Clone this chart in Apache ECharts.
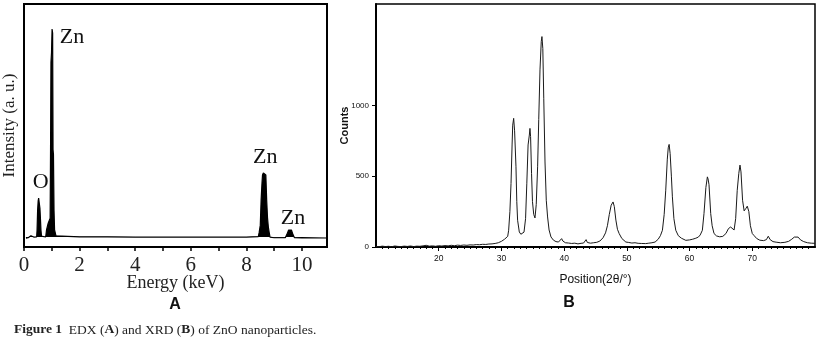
<!DOCTYPE html>
<html>
<head>
<meta charset="utf-8">
<script src="https://cdn.jsdelivr.net/npm/echarts@6/dist/echarts.min.js"></script>
<style>
  html, body { margin: 0; padding: 0; background: #fff; }
  #chart { width: 817px; height: 339px; }
</style>
</head>
<body>
<div id="chart"></div>
<script>
// ---------- Panel A: EDX ----------
const edxEnergy = [0.07, 0.15, 0.2, 0.25, 0.3, 0.35, 0.455, 0.47, 0.49, 0.51, 0.527, 0.55, 0.573, 0.59, 0.61, 0.63, 0.66,
  0.78, 0.81, 0.87, 0.94, 0.955, 0.97, 0.99, 1.01, 1.03, 1.045, 1.06, 1.08, 1.1, 1.15, 1.2,
  2.0, 3.0, 4.0, 5.0, 6.0, 7.0, 8.0, 8.43, 8.46, 8.5, 8.53, 8.56, 8.58, 8.61, 8.65, 8.7, 8.73, 8.76, 8.79, 8.82, 8.85,
  9.0, 9.4, 9.45, 9.52, 9.57, 9.62, 9.68, 9.73, 10.0, 10.9];
const edxIntensity = [3.6, 3.8, 4.3, 4.6, 4.3, 4.1, 4.2, 7, 15.2, 19, 20.1, 18, 15.9, 12, 7, 4.5, 4.1,
  4.1, 7, 9.8, 11.8, 40, 76, 80, 89.7, 88, 40, 38, 15, 7, 4.6, 4.2,
  4.2, 4.2, 4.1, 4.1, 4.1, 4.1, 4.1, 4.3, 6, 9, 19.3, 26, 29.6, 30.5, 30, 29.6, 19.3, 12, 8.2, 6, 4.1,
  3.8, 3.8, 5, 7, 7.4, 7, 5, 3.8, 3.7, 3.7];
const edxBaseline = 4.1;
const edxPeaks = [
  { name: 'O',  energy: 0.527, intensity: 20.1 },
  { name: 'Zn', energy: 1.01,  intensity: 89.7 },
  { name: 'Zn', energy: 8.61,  intensity: 30.5 },
  { name: 'Zn', energy: 9.57,  intensity: 7.4 }
];
const edxTicks = [0, 1, 2, 3, 4, 5, 6, 7, 8, 9, 10];
const edxTickLabels = [0, 2, 4, 6, 8, 10];

// ---------- Panel B: XRD ----------
const xrdTheta = [10, 10.5, 11, 11.5, 12, 12.5, 13, 13.5, 14, 14.5, 15, 15.5, 16, 16.5, 17, 17.5, 18, 18.5, 19, 19.5,
  20, 20.5, 21, 21.5, 22, 22.5, 23, 23.5, 24, 24.5, 25, 25.5, 26, 26.5, 27, 27.5, 28, 28.5, 29, 29.5,
  30, 30.5, 30.8, 31.0, 31.15, 31.35, 31.53, 31.7, 31.8, 31.95, 32.1, 32.32, 32.45, 32.58, 32.85, 33.1, 33.35, 33.6, 33.85,
  34.05, 34.25, 34.35, 34.45, 34.55, 34.65, 34.8, 34.95, 35.15, 35.35, 35.55, 35.77, 35.95, 36.15, 36.35, 36.46, 36.6, 36.75,
  36.95, 37.15, 37.36, 37.6, 37.9, 38.3, 38.7, 39.1, 39.4, 39.6, 39.8, 40.2, 40.7, 41.2, 41.7, 42.2, 42.7, 43.1, 43.35, 43.5,
  43.7, 44.2, 44.7, 45.2, 45.7, 46.2, 46.6, 46.9, 47.2, 47.5, 47.8, 48.0, 48.25, 48.5, 48.77, 49.2, 49.84, 50.3, 50.8, 51.3,
  51.8, 52.3, 53, 53.5, 54, 54.5, 55, 55.35, 55.67, 55.95, 56.2, 56.45, 56.6, 56.74, 56.9, 57.1, 57.26, 57.5, 57.8, 58.2,
  58.7, 59.4, 60, 60.5, 61, 61.4, 61.7, 62.04, 62.3, 62.6, 62.84, 62.95, 63.1, 63.37, 63.6, 63.9, 64.3, 64.8, 65.3, 65.8,
  66.2, 66.55, 66.8, 67.1, 67.35, 67.6, 67.85, 68.04, 68.2, 68.45, 68.7, 68.95, 69.2, 69.45, 69.7, 70.0, 70.3, 70.7, 71.2,
  71.8, 72.25, 72.55, 72.85, 73.3, 73.8, 74.5, 75.2, 75.8, 76.3, 76.7, 77.0, 77.3, 77.7, 78.2, 78.8, 79.4, 80];
const xrdCounts = [4, 2, 6, 3, 5, 2, 7, 4, 3, 6, 4, 7, 3, 6, 5, 8, 12, 6, 8, 5,
  9, 7, 10, 8, 12, 9, 13, 11, 14, 12, 15, 14, 17, 16, 19, 18, 21, 22, 25, 30,
  40, 55, 65, 75, 118, 250, 448, 720, 860, 908, 820, 566, 320, 189, 106, 90, 83, 105, 200,
  450, 720, 755, 790, 837, 780, 520, 320, 230, 205, 300, 566, 900, 1250, 1450, 1485, 1400, 1050,
  600, 330, 212, 120, 71, 48, 38, 35, 40, 59, 42, 30, 28, 25, 27, 22, 26, 28, 40, 52,
  32, 27, 30, 33, 42, 65, 100, 150, 230, 295, 318, 285, 190, 125, 95, 60, 35, 32, 28, 30,
  26, 25, 24, 27, 30, 35, 55, 80, 118, 230, 401, 620, 700, 724, 660, 500, 354, 200, 118, 80,
  62, 47, 50, 55, 62, 70, 85, 118, 236, 420, 495, 480, 440, 236, 150, 95, 78, 72, 75, 95,
  130, 141, 130, 120, 200, 400, 520, 578, 530, 330, 255, 270, 288, 250, 150, 95, 80, 60, 48,
  45, 52, 76, 52, 38, 34, 30, 33, 40, 55, 70, 76, 70, 50, 38, 30, 27, 26];
const xrdXTicks = [20, 30, 40, 50, 60, 70];
const xrdYTicks = [0, 500, 1000];

const serif = "'Liberation Serif', 'Times New Roman', serif";
const narrow = "'Liberation Sans Narrow', 'Liberation Sans', Arial, sans-serif";

const chart = echarts.init(document.getElementById('chart'), null, { renderer: 'canvas' });

chart.setOption({
  animation: false,
  backgroundColor: '#fff',
  title: [
    { text: 'A', left: 170, top: 292, textAlign: 'center',
      textStyle: { fontFamily: "'Liberation Sans', Arial, sans-serif", fontWeight: 900, fontSize: 16, color: '#111' } },
    { text: 'B', left: 564, top: 290, textAlign: 'center',
      textStyle: { fontFamily: "'Liberation Sans', Arial, sans-serif", fontWeight: 900, fontSize: 16, color: '#111' } },
    { text: '{b|Figure 1}  EDX ({b|A}) and XRD ({b|B}) of ZnO nanoparticles.', left: 9, top: 318,
      textStyle: { fontFamily: serif, fontWeight: 'normal', fontSize: 13.5, color: '#222',
        rich: { b: { fontFamily: serif, fontWeight: 'bold', fontSize: 13.5, color: '#222' } } } }
  ],
  grid: [
    { left: 23, top: 4, width: 304, height: 243, show: true, borderColor: '#000', borderWidth: 2, backgroundColor: 'transparent' },
    { left: 376, top: 4, width: 439, height: 243, show: true, borderColor: '#000', borderWidth: 1.5, backgroundColor: 'transparent' }
  ],
  xAxis: [
    { type: 'value', gridIndex: 0, min: 0, max: 10.9,
      name: 'Energy (keV)', nameLocation: 'middle', nameGap: 27, nameMoveOverlap: false,
      nameTextStyle: { fontFamily: serif, fontSize: 18, color: '#222' },
      axisLine: { show: true, lineStyle: { color: '#000', width: 2 } },
      axisTick: { show: true, customValues: edxTicks, length: 4, lineStyle: { color: '#000', width: 1.5 } },
      axisLabel: { show: true, customValues: edxTickLabels, margin: 8, fontFamily: serif, fontSize: 21, color: '#222' },
      splitLine: { show: false }
    },
    { type: 'value', gridIndex: 1, min: 10, max: 80, interval: 10,
      name: 'Position(2θ/°)', nameLocation: 'middle', nameGap: 27, nameMoveOverlap: false,
      nameTextStyle: { fontFamily: narrow, fontSize: 12, color: '#111' },
      axisLine: { show: true, lineStyle: { color: '#000', width: 2 } },
      axisTick: { show: true, customValues: xrdXTicks, length: 4, lineStyle: { color: '#000', width: 1 } },
      minorTick: { show: true, splitNumber: 10, length: 2, lineStyle: { color: '#000', width: 1 } },
      axisLabel: { show: true, customValues: xrdXTicks, margin: 7, fontFamily: narrow, fontSize: 8.5, color: '#111',
        formatter: v => String(v) },
      splitLine: { show: false }
    }
  ],
  yAxis: [
    { type: 'value', gridIndex: 0, min: 0, max: 100,
      name: 'Intensity (a. u.)', nameLocation: 'middle', nameGap: 6, nameMoveOverlap: false,
      nameTextStyle: { fontFamily: serif, fontSize: 17, color: '#222' },
      axisLine: { show: true, lineStyle: { color: '#000', width: 2 } },
      axisTick: { show: false }, axisLabel: { show: false }, splitLine: { show: false }
    },
    { type: 'value', gridIndex: 1, min: 0, max: 1715,
      name: 'Counts', nameLocation: 'middle', nameGap: 26, nameMoveOverlap: false,
      nameTextStyle: { fontFamily: narrow, fontSize: 11, fontWeight: 'bold', color: '#111' },
      axisLine: { show: true, lineStyle: { color: '#000', width: 2 } },
      axisTick: { show: true, customValues: xrdYTicks, length: 4, lineStyle: { color: '#000', width: 1 } },
      axisLabel: { show: true, customValues: xrdYTicks, margin: 7, fontFamily: narrow, fontSize: 8, color: '#111',
        formatter: v => String(v) },
      splitLine: { show: false }
    }
  ],
  series: [
    { type: 'line', xAxisIndex: 0, yAxisIndex: 0, showSymbol: false, symbol: 'none',
      data: edxEnergy.map((e, i) => [e, edxIntensity[i]]),
      lineStyle: { color: '#000', width: 1.2 },
      areaStyle: { color: '#000', opacity: 1, origin: edxBaseline },
      markPoint: {
        symbol: 'circle', symbolSize: 0,
        data: edxPeaks.map((p, i) => ({
          coord: [p.energy, p.intensity], name: p.name,
          label: { offset: [[2, -16], [20, 8], [2, -16], [3, -11]][i] }
        })),
        label: { show: true, position: 'inside', formatter: '{b}', fontFamily: serif, fontSize: 22, color: '#111' }
      }
    },
    { type: 'line', xAxisIndex: 1, yAxisIndex: 1, showSymbol: false, symbol: 'none',
      data: xrdTheta.map((t, i) => [t, xrdCounts[i]]),
      lineStyle: { color: '#1a1a1a', width: 1 }
    }
  ]
});
</script>
</body>
</html>
